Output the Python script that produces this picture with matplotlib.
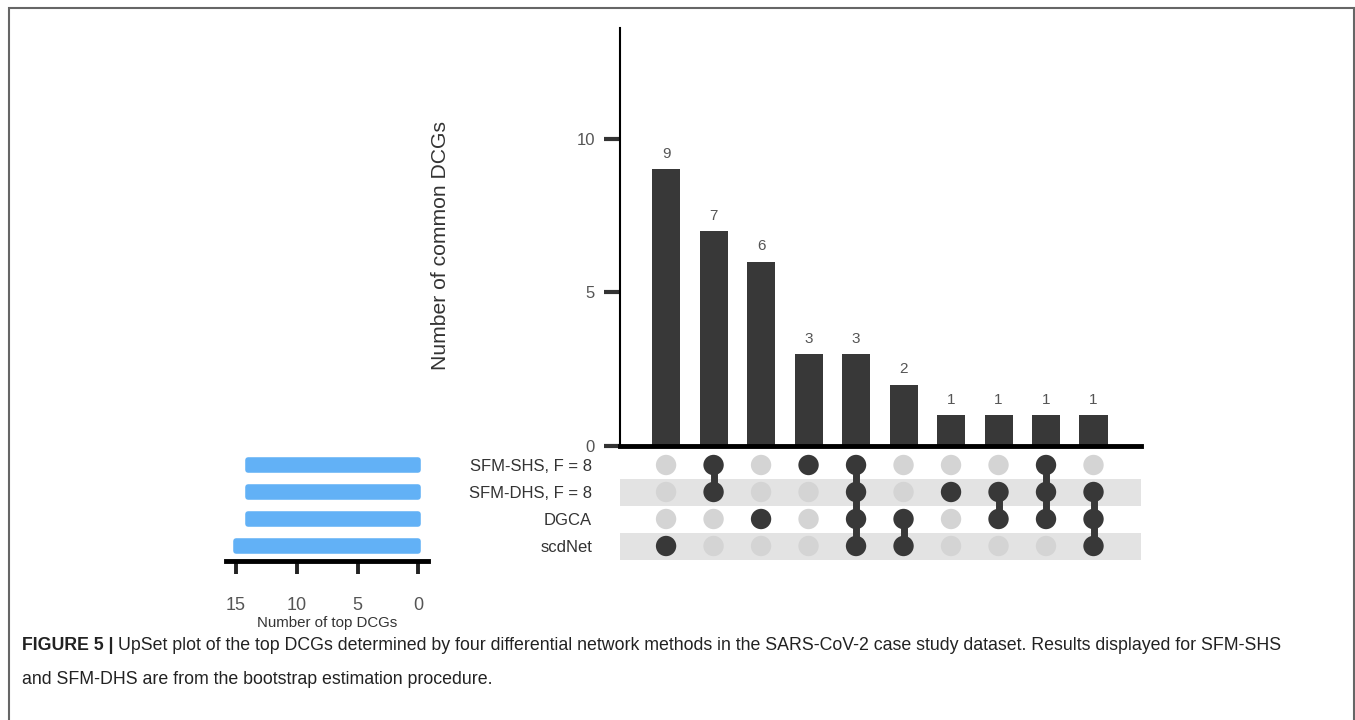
import matplotlib
matplotlib.use('Agg')
import matplotlib.pyplot as plt
import numpy as np
from matplotlib.patches import Rectangle

plt.rcParams['font.family'] = ['Liberation Sans', 'DejaVu Sans']

# ---------------- data ----------------
set_names = ['SFM-SHS, F = 8', 'SFM-DHS, F = 8', 'DGCA', 'scdNet']
set_sizes = [14, 14, 14, 15]
intersection_sizes = [9, 7, 6, 3, 3, 2, 1, 1, 1, 1]
# row indices (into set_names) that belong to each intersection column
memberships = [[3], [0, 1], [2], [0], [0, 1, 2, 3], [2, 3], [1], [1, 2], [0, 1, 2], [1, 2, 3]]
size_ticks = [0, 5, 10]
set_ticks = [15, 10, 5, 0]

caption_bold = 'FIGURE 5 |'
caption_line1 = ('UpSet plot of the top DCGs determined by four differential network methods in the '
                 'SARS-CoV-2 case study dataset. Results displayed for SFM-SHS')
caption_line2 = 'and SFM-DHS are from the bootstrap estimation procedure.'

# ---------------- layout helpers ----------------
W, H = 1355, 720
fig = plt.figure(figsize=(W / 100, H / 100), dpi=100)


def rect(x0, y0, x1, y1):
    return [x0 / W, 1 - y1 / H, (x1 - x0) / W, (y1 - y0) / H]


DARK = '#383838'
LIGHT = '#d4d4d4'
STRIPE = '#e3e3e3'
BLUE = '#62b1f6'
XLIM = (-0.97, 10.0)

# ---------------- intersection bar chart ----------------
ax_bar = fig.add_axes(rect(620, 28, 1141, 446))
x = np.arange(len(intersection_sizes))
ax_bar.bar(x, intersection_sizes, width=0.59, color=DARK, zorder=2)
ax_bar.set_xlim(*XLIM)
ax_bar.set_ylim(0, 13.6)
for xi, v in zip(x, intersection_sizes):
    ax_bar.annotate(str(v), (xi, v), xytext=(0, 8), textcoords='offset points',
                    ha='center', va='baseline', fontsize=11, color='#555555')
for s in ['top', 'right']:
    ax_bar.spines[s].set_visible(False)
ax_bar.spines['left'].set_linewidth(1.5)
ax_bar.spines['left'].set_color('black')
ax_bar.spines['bottom'].set_linewidth(3.5)
ax_bar.spines['bottom'].set_color('black')
ax_bar.spines['bottom'].set_zorder(3)
ax_bar.set_xticks([])
ax_bar.set_yticks(size_ticks)
ax_bar.tick_params(axis='y', length=11.5, width=3, color='#333333', pad=6.5,
                   labelsize=12, labelcolor='#555555')
ax_bar.set_ylabel('Number of common DCGs', fontsize=15.2, color='#333333')
ax_bar.yaxis.set_label_coords((450 - 620) / 521, (446 - 246) / 418)

# ---------------- matrix ----------------
ax_m = fig.add_axes(rect(620, 451.5, 1141, 559.5))
ax_m.set_xlim(*XLIM)
ax_m.set_ylim(len(set_names) - 0.5, -0.5)
for r in range(len(set_names)):
    if r % 2 == 1:
        ax_m.axhspan(r - 0.5, r + 0.5, xmin=-0.006, xmax=1, color=STRIPE, zorder=0, lw=0)
for c, mem in enumerate(memberships):
    rows = np.arange(len(set_names))
    cols = [DARK if r in mem else LIGHT for r in rows]
    ax_m.scatter(np.full(len(rows), c), rows, s=215, c=cols, zorder=3, linewidths=0)
    if len(mem) > 1:
        ax_m.plot([c, c], [min(mem), max(mem)], color=DARK, lw=5, zorder=2,
                  solid_capstyle='butt')
for s in ax_m.spines.values():
    s.set_visible(False)
ax_m.set_xticks([])
ax_m.set_yticks(range(len(set_names)))
ax_m.set_yticklabels(set_names)
ax_m.tick_params(axis='y', length=0, pad=20, labelsize=12, labelcolor='#333333')

# ---------------- set size bars ----------------
ax_l = fig.add_axes(rect(226, 451.5, 428, 561))
ax_l.barh(np.arange(len(set_names)), set_sizes, height=0.39, color=BLUE,
          edgecolor=BLUE, linewidth=4, joinstyle='round')
ax_l.set_xlim(15.83, -0.8)
ax_l.set_ylim(3.556, -0.5)
for s in ['top', 'right', 'left']:
    ax_l.spines[s].set_visible(False)
ax_l.spines['bottom'].set_linewidth(3.5)
ax_l.spines['bottom'].set_color('black')
ax_l.set_yticks([])
ax_l.set_xticks(set_ticks)
ax_l.tick_params(axis='x', length=9, width=2.8, color='#222222', pad=17,
                 labelsize=13, labelcolor='#555555')
ax_l.set_xlabel('Number of top DCGs', fontsize=10.8, color='#333333', labelpad=1.5)

# ---------------- caption ----------------
CAP_FS = 12.8
t_bold = fig.text(22 / W, 1 - 645 / H, caption_bold, fontweight='bold', fontsize=CAP_FS,
                  va='center', ha='left', color='#222222')
fig.canvas.draw()
bb = t_bold.get_window_extent()
fig.text((bb.x1 + 4) / W, 1 - 645 / H, caption_line1, fontsize=CAP_FS, va='center',
         ha='left', color='#222222')
fig.text(22 / W, 1 - 680 / H, caption_line2, fontsize=CAP_FS, va='center', ha='left',
         color='#222222')

# ---------------- border ----------------
fig.add_artist(Rectangle((9 / W, -0.02), (1353.5 - 9) / W, (720 - 8) / H + 0.02,
                         transform=fig.transFigure, fill=False, edgecolor='#666666',
                         lw=1.5, clip_on=False))

fig.savefig('out.png', dpi=100)
